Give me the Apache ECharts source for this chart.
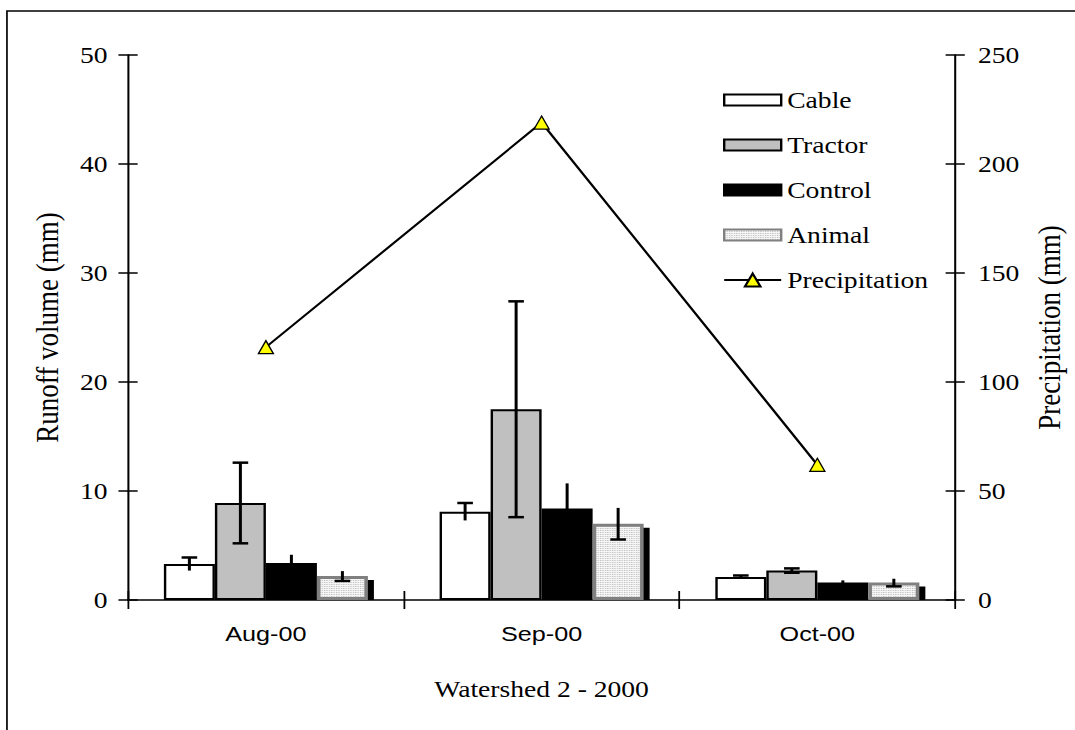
<!DOCTYPE html>
<html>
<head>
<meta charset="utf-8">
<script src="https://cdn.jsdelivr.net/npm/echarts@6/dist/echarts.min.js"></script>
<style>
  html, body { margin: 0; padding: 0; background: #fff; overflow: hidden; }
  /* The chart is laid out at a narrower width and widened by CSS, which gives the wide type */
  #chart { width: 895.83px; height: 730px; transform: scaleX(1.2); transform-origin: 0 0; }
</style>
</head>
<body>
<div id="chart"></div>
<script>
// ---- data ----
const months = ['Aug-00', 'Sep-00', 'Oct-00'];

const cable = [3.3, 8.1, 2.1];
const cableErr = [0.6, 0.8, 0.15];

const tractor = [8.9, 17.5, 2.7];
const tractorErr = [3.7, 9.9, 0.2];

const control = [3.4, 8.4, 1.6];
const controlErr = [0.75, 2.3, 0.2];

const animal = [2.2, 7.0, 1.6];
const animalErr = [0.45, 1.45, 0.35];

const precipitation = [116, 219, 62];

const runoffTicks = [0, 10, 20, 30, 40, 50];
const precipTicks = [0, 50, 100, 150, 200, 250];

// ---- styling ----
const SERIF = '"Times New Roman", "Liberation Serif", serif';
const SANS = 'Arial, "Liberation Sans", sans-serif';
const CAT_GAP = 0.26;          // barCategoryGap as a fraction
const CAP = 13;                // error bar cap width
const capTop = [true, true, false, false];
const capBottom = [false, true, false, true];

// fine dotted fill for the Animal bars
function dotPattern() {
  const c = document.createElement('canvas');
  c.width = 2; c.height = 2;
  const g = c.getContext('2d');
  g.fillStyle = '#f6f6f6'; g.fillRect(0, 0, 2, 2);
  g.fillStyle = '#bdbdbd'; g.fillRect(0, 0, 1, 1);
  return { image: c, repeat: 'repeat', imageWidth: 2, imageHeight: 2 };
}
const animalFill = dotPattern();

const barSets = [
  { name: 'Cable', values: cable, errs: cableErr, style: { color: '#ffffff', borderColor: '#000', borderWidth: 2 } },
  { name: 'Tractor', values: tractor, errs: tractorErr, style: { color: '#c0c0c0', borderColor: '#000', borderWidth: 2 } },
  { name: 'Control', values: control, errs: controlErr, style: { color: '#000000', borderColor: '#000', borderWidth: 2 } },
  { name: 'Animal', values: animal, errs: animalErr, style: { color: animalFill, borderColor: '#808080', borderWidth: 3 } }
];

// bar geometry inside a category band, from the axis scale
function barGeom(api, c, s) {
  const band = api.size([1, 0])[0];
  const bw = band * (1 - CAT_GAP) / barSets.length;
  const center = api.coord([c, 0])[0];
  return { x: center + (s - (barSets.length - 1) / 2) * bw, w: bw };
}

const errData = [];
barSets.forEach((b, s) => b.values.forEach((v, c) => errData.push([c, s, v, b.errs[c]])));

// legend key: a flat box sitting in a taller item cell
const rectIcon = 'path://M0,0 M0,16 M0,2.5 L50,2.5 L50,13.5 L0,13.5 Z';

const chart = echarts.init(document.getElementById('chart'), null, { renderer: 'svg' });

const tickFont = { fontFamily: SERIF, fontSize: 23, color: '#000' };
const titleFont = { fontFamily: SERIF, fontSize: 27, color: '#000' };

chart.setOption({
  animation: false,
  backgroundColor: '#fff',
  graphic: [{
    type: 'rect', x: 5.8, y: 11, silent: true,
    shape: { x: 0, y: 0, width: 2000, height: 2000 },
    style: { fill: 'none', stroke: '#000', lineWidth: 1.4 }
  }],
  grid: { left: 106.7, right: 100, top: 55, bottom: 130 },
  legend: {
    orient: 'vertical', left: 602.5, top: 88.5, padding: 0,
    itemWidth: 47.5, itemHeight: 16, itemGap: 22,
    symbolKeepAspect: false,
    textStyle: { fontFamily: SERIF, fontSize: 23, color: '#000', lineHeight: 23 },
    data: [
      { name: 'Cable', icon: rectIcon },
      { name: 'Tractor', icon: rectIcon },
      { name: 'Control', icon: rectIcon },
      { name: 'Animal', icon: rectIcon },
      { name: 'Precipitation' }
    ]
  },
  xAxis: [{
    type: 'category', data: months, position: 'bottom',
    axisLine: { onZero: false, lineStyle: { color: '#000', width: 1.7 } },
    axisTick: { show: true, length: 9, lineStyle: { color: '#000', width: 1.5 } },
    axisLabel: { fontFamily: SANS, fontSize: 21, color: '#000', margin: 23 },
    name: 'Watershed 2 - 2000', nameLocation: 'middle', nameGap: 77,
    nameTextStyle: tickFont
  }, {
    type: 'category', data: months, position: 'bottom',
    axisLine: { show: false },
    axisTick: { show: true, inside: true, length: 9, lineStyle: { color: '#000', width: 1.5 } },
    axisLabel: { show: false }
  }],
  yAxis: [{
    type: 'value', position: 'left',
    min: runoffTicks[0], max: runoffTicks[runoffTicks.length - 1], interval: runoffTicks[1] - runoffTicks[0],
    splitLine: { show: false },
    axisLine: { show: true, lineStyle: { color: '#000', width: 1.7 } },
    axisTick: { show: true, length: 8, lineStyle: { color: '#000', width: 1.5 } },
    axisLabel: Object.assign({ margin: 17 }, tickFont),
    name: 'Runoff volume (mm)', nameLocation: 'middle', nameGap: 54, nameRotate: 90,
    nameTextStyle: titleFont
  }, {
    type: 'value', position: 'left',
    min: runoffTicks[0], max: runoffTicks[runoffTicks.length - 1], interval: runoffTicks[1] - runoffTicks[0],
    splitLine: { show: false }, axisLine: { show: false }, axisLabel: { show: false },
    axisTick: { show: true, inside: true, length: 8, lineStyle: { color: '#000', width: 1.5 } }
  }, {
    type: 'value', position: 'right',
    min: precipTicks[0], max: precipTicks[precipTicks.length - 1], interval: precipTicks[1] - precipTicks[0],
    splitLine: { show: false },
    axisLine: { show: true, lineStyle: { color: '#000', width: 1.7 } },
    axisTick: { show: true, length: 8, lineStyle: { color: '#000', width: 1.5 } },
    axisLabel: Object.assign({ margin: 19 }, tickFont),
    name: 'Precipitation (mm)', nameLocation: 'middle', nameGap: 64, nameRotate: 90,
    nameTextStyle: titleFont
  }, {
    type: 'value', position: 'right',
    min: precipTicks[0], max: precipTicks[precipTicks.length - 1], interval: precipTicks[1] - precipTicks[0],
    splitLine: { show: false }, axisLine: { show: false }, axisLabel: { show: false },
    axisTick: { show: true, inside: true, length: 8, lineStyle: { color: '#000', width: 1.5 } }
  }],
  series: [
    // dark offset edge behind the Animal bars
    {
      type: 'custom', name: 'animal-edge', silent: true, z: 1,
      xAxisIndex: 0, yAxisIndex: 0,
      data: animal.map((v, c) => [c, v]),
      encode: { x: 0, y: 1 },
      renderItem(params, api) {
        const c = api.value(0), v = api.value(1);
        const g = barGeom(api, c, 3);
        const top = api.coord([c, v])[1] + 4;
        const base = api.coord([c, 0])[1];
        return { type: 'rect', shape: { x: g.x - g.w / 2 + 5, y: top, width: g.w, height: base - top }, style: { fill: '#000' } };
      }
    },
    ...barSets.map(b => ({
      type: 'bar', name: b.name, data: b.values, z: 2,
      xAxisIndex: 0, yAxisIndex: 0,
      barGap: '0%', barCategoryGap: (CAT_GAP * 100) + '%',
      itemStyle: b.style
    })),
    // error bars
    {
      type: 'custom', name: 'errors', silent: true, z: 3,
      xAxisIndex: 0, yAxisIndex: 0,
      data: errData,
      encode: { x: 0, y: 2 },
      renderItem(params, api) {
        const c = api.value(0), s = api.value(1), v = api.value(2), e = api.value(3);
        const x = barGeom(api, c, s).x;
        const top = api.coord([c, v + e])[1];
        const bot = api.coord([c, v - e])[1];
        const st = { stroke: '#000', lineWidth: 2.5 };
        const kids = [{ type: 'line', shape: { x1: x, y1: top, x2: x, y2: bot }, style: st }];
        if (capTop[s]) kids.push({ type: 'line', shape: { x1: x - CAP / 2, y1: top, x2: x + CAP / 2, y2: top }, style: st });
        if (capBottom[s]) kids.push({ type: 'line', shape: { x1: x - CAP / 2, y1: bot, x2: x + CAP / 2, y2: bot }, style: st });
        return { type: 'group', children: kids };
      }
    },
    {
      type: 'line', name: 'Precipitation', data: precipitation, z: 4,
      xAxisIndex: 0, yAxisIndex: 2,
      symbol: 'triangle', symbolSize: [12.5, 13],
      lineStyle: { color: '#000', width: 2 },
      itemStyle: { color: '#ffff00', borderColor: '#000', borderWidth: 1.2 }
    }
  ]
});
</script>
</body>
</html>
